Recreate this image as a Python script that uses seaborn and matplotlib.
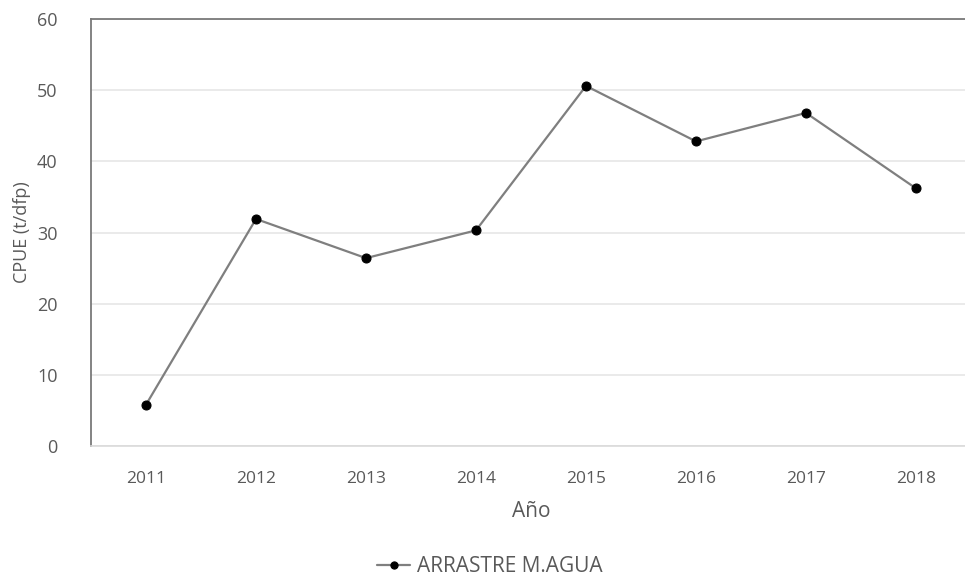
import matplotlib
matplotlib.use("Agg")
import matplotlib.pyplot as plt
import seaborn as sns
import pandas as pd

years = ["2011", "2012", "2013", "2014", "2015", "2016", "2017", "2018"]
cpue = [5.8, 31.9, 26.4, 30.3, 50.6, 42.8, 46.8, 36.2]
series_name = "ARRASTRE M.AGUA"
y_ticks = [0, 10, 20, 30, 40, 50, 60]

df = pd.DataFrame({"Año": years, "CPUE": cpue, "Serie": series_name})

sns.set_theme(style="white")
plt.rcParams["font.family"] = ["Open Sans", "DejaVu Sans"]

fig = plt.figure(figsize=(9.65, 5.77), dpi=100)
ax = fig.add_axes([91 / 965, 1 - 446 / 577, 880 / 965, 427 / 577])

sns.lineplot(data=df, x="Año", y="CPUE", hue="Serie", palette=["#7f7f7f"],
             marker="o", markersize=6.5, markerfacecolor="black",
             markeredgecolor="black", linewidth=1.6, sort=False, ax=ax)

ax.set_xlim(-0.5, len(years) - 0.5)
ax.set_ylim(0, 60)
ax.set_yticks(y_ticks)
ax.yaxis.grid(True, color="#e6e6e6", linewidth=1.2)
ax.set_axisbelow(True)

for side in ["top", "left"]:
    ax.spines[side].set_color("#7a7a7a")
    ax.spines[side].set_linewidth(1.3)
ax.spines["bottom"].set_color("#dadada")
ax.spines["bottom"].set_linewidth(1.2)
ax.spines["right"].set_visible(False)

ax.tick_params(axis="both", length=0, colors="#595959")
ax.tick_params(axis="x", pad=18, labelsize=12.5)
ax.tick_params(axis="y", pad=24, labelsize=13)

ax.set_xlabel("Año", fontsize=15, color="#595959", labelpad=10)
ax.set_ylabel("CPUE (t/dfp)", fontsize=13, color="#595959", labelpad=4)

leg = ax.legend(loc="center", bbox_to_anchor=(0.453, -0.283),
                frameon=False, fontsize=15, handlelength=1.6,
                handletextpad=0.3, markerscale=0.8)
for t in leg.get_texts():
    t.set_color("#595959")

fig.savefig("out.png", dpi=100)
